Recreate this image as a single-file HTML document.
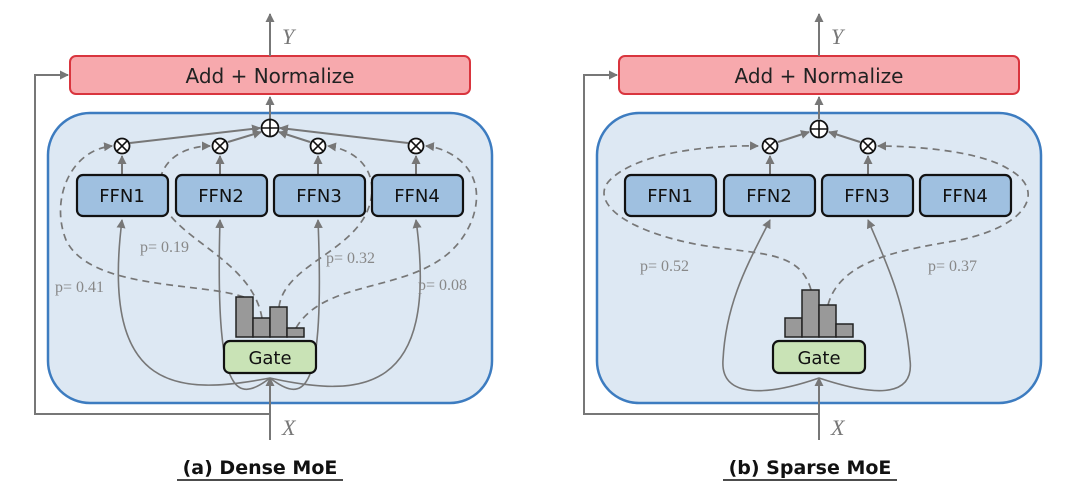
<!DOCTYPE html>
<html><head><meta charset="utf-8"><style>
html,body{margin:0;padding:0;background:#fff;}
svg{display:block;}
.t{font-family:"DejaVu Sans","Liberation Sans",sans-serif;}
.p{font-family:"Liberation Serif",serif;font-size:16px;fill:#888;}
</style></head><body>
<svg width="1080" height="498" viewBox="0 0 1080 498" xmlns="http://www.w3.org/2000/svg">
<defs>
<marker id="a" markerWidth="9" markerHeight="9" refX="8" refY="4.5" orient="auto" markerUnits="userSpaceOnUse"><path d="M0,0 L9,4.5 L0,9 z" fill="#777"/></marker>
<g id="otimes"><circle r="7.5" fill="#fff" stroke="#111" stroke-width="1.8"/><path d="M-5.3,-5.3 L5.3,5.3 M-5.3,5.3 L5.3,-5.3" stroke="#111" stroke-width="1.6"/></g>
<g id="oplus"><circle r="8.5" fill="#fff" stroke="#111" stroke-width="1.8"/><path d="M-8.5,0 L8.5,0 M0,-8.5 L0,8.5" stroke="#111" stroke-width="1.6"/></g>
</defs>

<!-- ============ LEFT ============ -->
<rect x="48" y="113" width="444" height="290" rx="42" fill="#dde8f3" stroke="#3d7cc0" stroke-width="2.5"/>
<path d="M270,414 L35,414 L35,75 L68,75" fill="none" stroke="#777" stroke-width="2" marker-end="url(#a)"/>
<path d="M270,440 L270,378" fill="none" stroke="#777" stroke-width="2" marker-end="url(#a)"/>
<rect x="70" y="56" width="400" height="38" rx="6" fill="#f7a9ad" stroke="#d9353e" stroke-width="2"/>
<text x="270" y="83" text-anchor="middle" class="t" font-size="20" fill="#222">Add + Normalize</text>
<path d="M270,56 L270,14" stroke="#777" stroke-width="2" marker-end="url(#a)"/>
<text x="282" y="44" font-family="Liberation Serif,serif" font-style="italic" font-size="22" fill="#777">Y</text>
<path d="M270,119 L270,97" stroke="#777" stroke-width="2" marker-end="url(#a)"/>
<g fill="none" stroke="#777" stroke-width="1.6">
<path d="M270,378 C180,395 100,395 122,220" marker-end="url(#a)"/>
<path d="M270,378 C235,405 215,395 220,220" marker-end="url(#a)"/>
<path d="M270,378 C305,405 325,395 318,220" marker-end="url(#a)"/>
<path d="M270,378 C360,398 440,395 416,220" marker-end="url(#a)"/>
</g>
<g fill="none" stroke="#777" stroke-width="1.7" stroke-dasharray="7,5">
<path d="M244,297 C200,282 90,290 66,240 C50,200 70,150 112,146" marker-end="url(#a)"/>
<path d="M262,318 C250,250 150,235 160,180 C165,155 190,146 210,146" marker-end="url(#a)"/>
<path d="M279,307 C285,260 370,250 372,190 C372,160 345,148 328,146" marker-end="url(#a)"/>
<path d="M296,328 C330,270 440,300 472,220 C490,170 450,148 426,146" marker-end="url(#a)"/>
</g>
<g stroke="#777" stroke-width="2" fill="none">
<path d="M122,175 L122,156" marker-end="url(#a)"/>
<path d="M220,175 L220,156" marker-end="url(#a)"/>
<path d="M318,175 L318,156" marker-end="url(#a)"/>
<path d="M416,175 L416,156" marker-end="url(#a)"/>
<path d="M130,143 L260,128" marker-end="url(#a)"/>
<path d="M228,142 L261,132" marker-end="url(#a)"/>
<path d="M310,142 L279,132" marker-end="url(#a)"/>
<path d="M408,143 L280,128" marker-end="url(#a)"/>
</g>
<g fill="#9fc0e0" stroke="#111" stroke-width="2.2">
<rect x="77" y="175" width="91" height="41" rx="6"/>
<rect x="176" y="175" width="91" height="41" rx="6"/>
<rect x="274" y="175" width="91" height="41" rx="6"/>
<rect x="372" y="175" width="91" height="41" rx="6"/>
</g>
<g class="t" font-size="18" fill="#111" text-anchor="middle">
<text x="122" y="202">FFN1</text><text x="221" y="202">FFN2</text><text x="319" y="202">FFN3</text><text x="417" y="202">FFN4</text>
</g>
<use href="#otimes" x="122" y="146"/><use href="#otimes" x="220" y="146"/><use href="#otimes" x="318" y="146"/><use href="#otimes" x="416" y="146"/>
<use href="#oplus" x="270" y="128"/>
<text x="55" y="292" class="p">p= 0.41</text>
<text x="140" y="252" class="p">p= 0.19</text>
<text x="326" y="263" class="p">p= 0.32</text>
<text x="418" y="290" class="p">p= 0.08</text>
<g fill="#999" stroke="#222" stroke-width="1.5">
<rect x="236" y="297" width="17" height="40"/><rect x="253" y="318" width="17" height="19"/><rect x="270" y="307" width="17" height="30"/><rect x="287" y="328" width="17" height="9"/>
</g>
<rect x="224" y="341" width="92" height="32" rx="6" fill="#c9e3b6" stroke="#111" stroke-width="2.2"/>
<text x="270" y="364" text-anchor="middle" class="t" font-size="18" fill="#111">Gate</text>
<text x="282" y="435" font-family="Liberation Serif,serif" font-style="italic" font-size="22" fill="#777">X</text>
<text x="260" y="474" text-anchor="middle" class="t" font-size="19" font-weight="bold" fill="#111">(a) Dense MoE</text>
<line x1="177" y1="480" x2="343" y2="480" stroke="#111" stroke-width="1.6"/>

<!-- ============ RIGHT ============ -->
<rect x="597" y="113" width="444" height="290" rx="42" fill="#dde8f3" stroke="#3d7cc0" stroke-width="2.5"/>
<path d="M819,414 L584,414 L584,75 L617,75" fill="none" stroke="#777" stroke-width="2" marker-end="url(#a)"/>
<path d="M819,440 L819,378" fill="none" stroke="#777" stroke-width="2" marker-end="url(#a)"/>
<rect x="619" y="56" width="400" height="38" rx="6" fill="#f7a9ad" stroke="#d9353e" stroke-width="2"/>
<text x="819" y="83" text-anchor="middle" class="t" font-size="20" fill="#222">Add + Normalize</text>
<path d="M819,56 L819,14" stroke="#777" stroke-width="2" marker-end="url(#a)"/>
<text x="831" y="44" font-family="Liberation Serif,serif" font-style="italic" font-size="22" fill="#777">Y</text>
<path d="M819,119 L819,97" stroke="#777" stroke-width="2" marker-end="url(#a)"/>
<g fill="none" stroke="#777" stroke-width="1.6">
<path d="M819,378 C770,395 720,400 723,360 C726,300 750,260 770,220" marker-end="url(#a)"/>
<path d="M819,378 C870,395 915,400 910,360 C905,300 885,260 868,220" marker-end="url(#a)"/>
</g>
<g fill="none" stroke="#777" stroke-width="1.7" stroke-dasharray="7,5">
<path d="M811,290 C800,250 760,255 700,245 C620,230 590,200 610,180 C640,150 720,145 758,146" marker-end="url(#a)"/>
<path d="M828,305 C840,260 900,250 960,240 C1030,225 1045,190 1010,170 C980,150 910,146 878,146" marker-end="url(#a)"/>
</g>
<g stroke="#777" stroke-width="2" fill="none">
<path d="M770,175 L770,156" marker-end="url(#a)"/>
<path d="M868,175 L868,156" marker-end="url(#a)"/>
<path d="M778,142 L809,132" marker-end="url(#a)"/>
<path d="M860,142 L829,132" marker-end="url(#a)"/>
</g>
<g fill="#9fc0e0" stroke="#111" stroke-width="2.2">
<rect x="625" y="175" width="91" height="41" rx="6"/>
<rect x="724" y="175" width="91" height="41" rx="6"/>
<rect x="822" y="175" width="91" height="41" rx="6"/>
<rect x="920" y="175" width="91" height="41" rx="6"/>
</g>
<g class="t" font-size="18" fill="#111" text-anchor="middle">
<text x="670" y="202">FFN1</text><text x="769" y="202">FFN2</text><text x="867" y="202">FFN3</text><text x="965" y="202">FFN4</text>
</g>
<use href="#otimes" x="770" y="146"/><use href="#otimes" x="868" y="146"/>
<use href="#oplus" x="819" y="129"/>
<text x="640" y="271" class="p">p= 0.52</text>
<text x="928" y="271" class="p">p= 0.37</text>
<g fill="#999" stroke="#222" stroke-width="1.5">
<rect x="785" y="318" width="17" height="19"/><rect x="802" y="290" width="17" height="47"/><rect x="819" y="305" width="17" height="32"/><rect x="836" y="324" width="17" height="13"/>
</g>
<rect x="773" y="341" width="92" height="32" rx="6" fill="#c9e3b6" stroke="#111" stroke-width="2.2"/>
<text x="819" y="364" text-anchor="middle" class="t" font-size="18" fill="#111">Gate</text>
<text x="831" y="435" font-family="Liberation Serif,serif" font-style="italic" font-size="22" fill="#777">X</text>
<text x="810" y="474" text-anchor="middle" class="t" font-size="19" font-weight="bold" fill="#111">(b) Sparse MoE</text>
<line x1="723" y1="480" x2="897" y2="480" stroke="#111" stroke-width="1.6"/>
</svg>
</body></html>
